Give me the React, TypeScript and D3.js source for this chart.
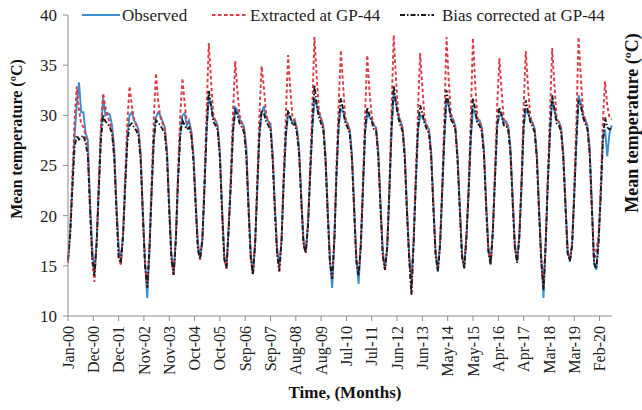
import React from "react";
import * as d3 from "d3";

// Monthly mean temperature (ºC), Jan-2000 .. Aug-2020, one row per year
const observed: number[] = [
  15.5, 18.5, 23.0, 28.0, 31.0, 33.3, 30.3, 30.3, 28.2, 27.6, 21.5, 16.8,
  14.3, 17.5, 22.6, 28.5, 31.7, 30.0, 30.2, 30.1, 29.0, 26.8, 21.2, 17.0,
  15.6, 18.2, 22.8, 28.0, 30.0, 30.3, 29.5, 29.2, 28.6, 26.3, 20.5, 15.5,
  11.8, 16.5, 22.0, 27.5, 29.8, 30.3, 30.0, 29.4, 28.8, 26.5, 21.0, 16.2,
  14.2, 17.8, 23.5, 28.2, 30.0, 30.2, 29.0, 29.5, 28.4, 26.0, 21.6, 17.3,
  15.8, 17.5, 22.5, 28.6, 31.8, 31.0, 29.8, 29.5, 29.0, 26.4, 20.8, 16.0,
  14.9, 19.0, 23.2, 28.5, 30.8, 30.5, 29.6, 29.3, 28.8, 26.9, 21.4, 16.4,
  14.2, 17.2, 22.4, 28.2, 30.2, 30.9, 29.8, 29.4, 29.2, 26.2, 21.0, 16.8,
  15.0, 17.6, 23.4, 28.0, 30.0, 29.8, 29.3, 29.6, 28.7, 26.8, 21.8, 17.6,
  16.4, 19.2, 23.8, 28.6, 31.7, 31.0, 30.2, 29.7, 29.0, 26.0, 20.6, 15.6,
  12.8, 17.8, 24.0, 29.0, 30.6, 30.4, 29.5, 29.2, 28.6, 26.2, 21.0, 15.8,
  13.2, 17.0, 22.3, 28.2, 30.1, 29.8, 29.6, 29.0, 28.8, 26.5, 21.2, 16.6,
  14.7, 16.8, 22.2, 28.4, 32.3, 31.2, 30.0, 29.5, 28.8, 26.3, 20.7, 16.1,
  13.6, 17.6, 23.0, 28.4, 30.0, 29.8, 29.4, 29.0, 28.6, 26.4, 21.2, 16.5,
  14.4, 17.2, 22.0, 27.6, 31.5, 31.0, 29.8, 29.6, 28.9, 26.0, 21.0, 16.3,
  14.7, 18.0, 22.0, 27.5, 30.6, 30.2, 29.4, 29.5, 28.8, 26.6, 21.2, 16.9,
  15.1, 18.6, 23.8, 29.0, 30.0, 30.0, 29.2, 29.4, 28.9, 26.8, 21.8, 17.2,
  15.4, 18.0, 22.6, 28.8, 30.5, 30.2, 29.6, 29.3, 28.7, 26.2, 20.8, 15.8,
  11.8, 17.4, 23.2, 28.2, 31.5, 30.6, 29.5, 29.4, 28.8, 26.4, 21.4, 16.6,
  15.4, 17.2, 21.8, 27.4, 32.0, 31.2, 30.0, 29.6, 29.0, 26.8, 21.2, 15.2,
  14.6, 17.4, 21.8, 27.8, 28.6, 25.9, 28.2, 29.0,
];

const extracted: number[] = [
  15.3, 18.8, 24.0, 29.5, 32.9, 30.5, 29.2, 28.8, 28.0, 26.5, 20.5, 15.5,
  13.4, 17.6, 23.5, 29.0, 32.2, 30.8, 30.0, 29.2, 28.5, 26.0, 20.8, 16.0,
  15.0, 18.5, 24.0, 29.4, 32.9, 31.0, 29.6, 29.0, 28.4, 26.2, 20.2, 15.2,
  13.0, 17.2, 23.2, 29.6, 34.2, 31.4, 29.8, 29.2, 28.6, 26.2, 20.6, 15.8,
  14.0, 18.0, 24.5, 30.0, 33.7, 31.2, 29.4, 29.2, 28.3, 25.8, 21.0, 16.8,
  15.6, 17.8, 23.4, 30.5, 37.2, 33.5, 30.2, 29.4, 28.8, 26.0, 20.4, 15.8,
  14.7, 19.2, 24.2, 30.4, 35.4, 32.4, 30.0, 29.2, 28.6, 26.4, 20.8, 16.0,
  14.1, 17.6, 23.4, 30.0, 34.9, 32.8, 30.2, 29.4, 29.0, 25.8, 20.6, 16.4,
  14.4, 17.8, 24.2, 30.2, 36.0, 32.6, 29.8, 29.5, 28.5, 26.4, 21.4, 17.2,
  16.3, 19.4, 24.8, 30.8, 37.8, 33.8, 30.6, 29.6, 28.8, 25.6, 20.2, 15.4,
  13.8, 18.0, 25.0, 31.2, 36.5, 33.0, 29.8, 29.2, 28.4, 25.8, 20.6, 15.6,
  14.2, 17.4, 23.2, 30.2, 36.0, 32.4, 30.0, 29.0, 28.6, 26.0, 20.8, 16.2,
  14.6, 17.2, 23.0, 30.6, 38.0, 33.6, 30.4, 29.4, 28.6, 25.9, 20.3, 15.8,
  12.3, 17.8, 24.0, 30.4, 36.2, 32.8, 29.8, 29.0, 28.4, 26.0, 20.8, 16.2,
  14.6, 17.4, 22.8, 29.8, 37.8, 33.4, 30.2, 29.5, 28.7, 25.6, 20.6, 16.0,
  14.9, 18.2, 22.8, 29.6, 37.7, 33.2, 29.8, 29.4, 28.6, 26.2, 20.8, 16.6,
  15.2, 18.8, 24.6, 31.0, 35.7, 32.4, 29.6, 29.3, 28.7, 26.4, 21.4, 16.9,
  15.5, 18.2, 23.4, 30.8, 36.4, 32.8, 30.0, 29.2, 28.5, 25.8, 20.4, 15.6,
  13.0, 17.8, 24.0, 30.2, 36.7, 33.0, 29.8, 29.3, 28.6, 26.0, 21.0, 16.3,
  15.6, 17.4, 22.6, 29.4, 37.8, 33.8, 30.4, 29.5, 28.8, 26.4, 20.8, 15.4,
  16.6, 18.0, 22.8, 29.4, 33.4, 31.0, 29.8, 29.6,
];

const biasCorrected: number[] = [
  15.6, 18.2, 22.6, 26.8, 28.0, 27.6, 27.8, 28.0, 27.2, 26.0, 20.6, 15.8,
  14.0, 17.4, 22.4, 27.6, 30.0, 29.4, 29.2, 28.8, 28.2, 25.8, 20.4, 15.8,
  15.3, 18.0, 22.8, 27.4, 29.0, 29.2, 28.8, 28.5, 28.0, 25.6, 20.0, 15.0,
  12.8, 16.8, 22.2, 27.6, 29.5, 29.3, 29.0, 28.6, 28.2, 25.8, 20.4, 15.6,
  14.1, 17.6, 23.4, 28.0, 29.5, 29.0, 28.6, 28.8, 28.0, 25.4, 20.8, 16.6,
  15.7, 17.6, 22.6, 28.6, 32.5, 31.0, 29.4, 29.0, 28.5, 25.8, 20.2, 15.6,
  14.8, 18.8, 23.0, 28.4, 30.5, 30.0, 29.2, 28.8, 28.3, 26.0, 20.6, 15.8,
  14.1, 17.2, 22.6, 28.0, 30.5, 30.2, 29.4, 29.0, 28.6, 25.5, 20.4, 16.2,
  14.5, 17.4, 23.2, 28.2, 30.5, 29.8, 29.0, 29.2, 28.2, 26.0, 21.2, 17.0,
  16.3, 19.0, 23.8, 28.8, 33.0, 31.0, 29.8, 29.2, 28.5, 25.4, 20.0, 15.3,
  13.7, 17.6, 24.0, 29.2, 31.7, 30.6, 29.2, 28.8, 28.2, 25.6, 20.4, 15.4,
  14.0, 17.0, 22.4, 28.4, 30.8, 30.0, 29.4, 28.6, 28.4, 25.8, 20.6, 16.0,
  14.6, 16.8, 22.2, 28.6, 33.0, 31.2, 29.8, 29.0, 28.4, 25.6, 20.1, 15.6,
  12.1, 17.4, 23.0, 28.6, 31.0, 30.2, 29.2, 28.6, 28.2, 25.8, 20.6, 16.0,
  14.5, 17.0, 22.2, 28.0, 32.5, 31.0, 29.6, 29.2, 28.5, 25.4, 20.4, 15.8,
  14.8, 17.8, 22.2, 27.8, 31.7, 30.6, 29.2, 29.0, 28.4, 26.0, 20.6, 16.4,
  15.1, 18.4, 23.6, 29.0, 30.8, 30.0, 29.0, 29.0, 28.5, 26.2, 21.2, 16.8,
  15.3, 17.8, 22.6, 28.8, 31.5, 30.4, 29.4, 28.9, 28.3, 25.6, 20.2, 15.5,
  12.6, 17.2, 23.0, 28.4, 32.0, 30.6, 29.2, 29.0, 28.4, 25.8, 20.8, 16.2,
  15.5, 17.0, 21.8, 27.6, 31.5, 31.0, 29.8, 29.2, 28.6, 26.2, 20.6, 15.3,
  14.7, 17.2, 21.8, 27.4, 29.8, 28.8, 28.6, 28.8,
];

const xTickLabels: string[] = [
  "Jan-00", "Dec-00", "Dec-01", "Nov-02", "Nov-03", "Oct-04", "Oct-05",
  "Sep-06", "Sep-07", "Aug-08", "Aug-09", "Jul-10", "Jul-11", "Jun-12",
  "Jun-13", "May-14", "May-15", "Apr-16", "Apr-17", "Mar-18", "Mar-19", "Feb-20",
];
const yTicks: number[] = [10, 15, 20, 25, 30, 35, 40];

const seriesNames = ["Observed", "Extracted at GP-44", "Bias corrected at GP-44"];

const W = 642;
const H = 410;
const M = { left: 68, right: 30.3, top: 15, bottom: 94 };

const startDate = new Date(2000, 0, 1);
const endDate = new Date(2020, 7, 1);

const SERIF = '"Liberation Serif", "DejaVu Serif", "Times New Roman", serif';

export default function App() {
  const x = d3.scaleTime().domain([startDate, endDate]).range([M.left, W - M.right]);
  const y = d3.scaleLinear().domain([10, 40]).range([H - M.bottom, M.top]);
  const monthDate = (i: number) => d3.timeMonth.offset(startDate, i);
  const line = d3
    .line<number>()
    .x((_, i) => x(monthDate(i)))
    .y((d) => y(d));

  const tickDates = xTickLabels.map((_, i) => d3.timeDay.offset(startDate, i * 350));
  const axisColor = "#8c8c8c";
  const y0 = H - M.bottom;
  const ts = { fontFamily: SERIF };

  const blue = "#3a8dd0";
  const red = "#dc3a44";
  const black = "#1a1a1a";

  return (
    <svg
      width={W}
      height={H}
      style={{ position: "absolute", left: 0, top: 0, background: "#fff", fontFamily: SERIF }}
    >
      <rect x={0} y={0} width={W} height={H} fill="#fff" />
      {/* series */}
      <path d={line(observed) || ""} fill="none" stroke={blue} strokeWidth={1.9} />
      <path d={line(extracted) || ""} fill="none" stroke={red} strokeWidth={1.9} strokeDasharray="3.5,2.5" />
      <path d={line(biasCorrected) || ""} fill="none" stroke={black} strokeWidth={1.9} strokeDasharray="5,2,1.5,2" />

      {/* axes */}
      <line x1={M.left} x2={M.left} y1={M.top} y2={y0} stroke={axisColor} strokeWidth={1} />
      <line x1={M.left} x2={W - M.right} y1={y0} y2={y0} stroke={axisColor} strokeWidth={1} />
      {yTicks.map((t) => (
        <g key={t}>
          <line x1={M.left - 5} x2={M.left} y1={y(t)} y2={y(t)} stroke={axisColor} />
          <text x={M.left - 11} y={y(t)} dy="0.35em" textAnchor="end" fontSize={17} fill="#222" style={ts}>
            {t}
          </text>
        </g>
      ))}
      {tickDates.map((d, i) => (
        <g key={xTickLabels[i]}>
          <line x1={x(d)} x2={x(d)} y1={y0} y2={y0 + 5} stroke={axisColor} />
          <text
            transform={`translate(${x(d)},${y0 + 10}) rotate(-90)`}
            dy="0.35em"
            textAnchor="end"
            fontSize={16}
            fill="#222"
            style={ts}
          >
            {xTickLabels[i]}
          </text>
        </g>
      ))}

      {/* titles */}
      <text
        transform={`translate(22,139) rotate(-90)`}
        textAnchor="middle"
        fontSize={16}
        fontWeight="bold"
        fill="#111"
        style={ts}
      >
        Mean temperature (ºC)
      </text>
      <text
        transform={`translate(638,123) rotate(-90)`}
        textAnchor="middle"
        fontSize={18}
        fontWeight="bold"
        fill="#111"
        style={ts}
      >
        Mean temperature (ºC)
      </text>
      <text x={345} y={398} textAnchor="middle" fontSize={17} fontWeight="bold" fill="#111" style={ts}>
        Time, (Months)
      </text>

      {/* legend */}
      <rect x={78} y={4} width={528} height={23} fill="#fff" />
      <line x1={82} x2={120} y1={15} y2={15} stroke={blue} strokeWidth={1.8} />
      <text x={122} y={15} dy="0.35em" fontSize={17} fill="#222" style={ts}>{seriesNames[0]}</text>
      <line x1={212} x2={247} y1={15} y2={15} stroke={red} strokeWidth={1.8} strokeDasharray="3.5,2.5" />
      <text x={250} y={15} dy="0.35em" fontSize={17} fill="#222" style={ts}>{seriesNames[1]}</text>
      <line x1={400} x2={434} y1={15} y2={15} stroke={black} strokeWidth={1.8} strokeDasharray="5,2,1.5,2" />
      <text x={442} y={15} dy="0.35em" fontSize={17} fill="#222" style={ts}>{seriesNames[2]}</text>
    </svg>
  );
}
